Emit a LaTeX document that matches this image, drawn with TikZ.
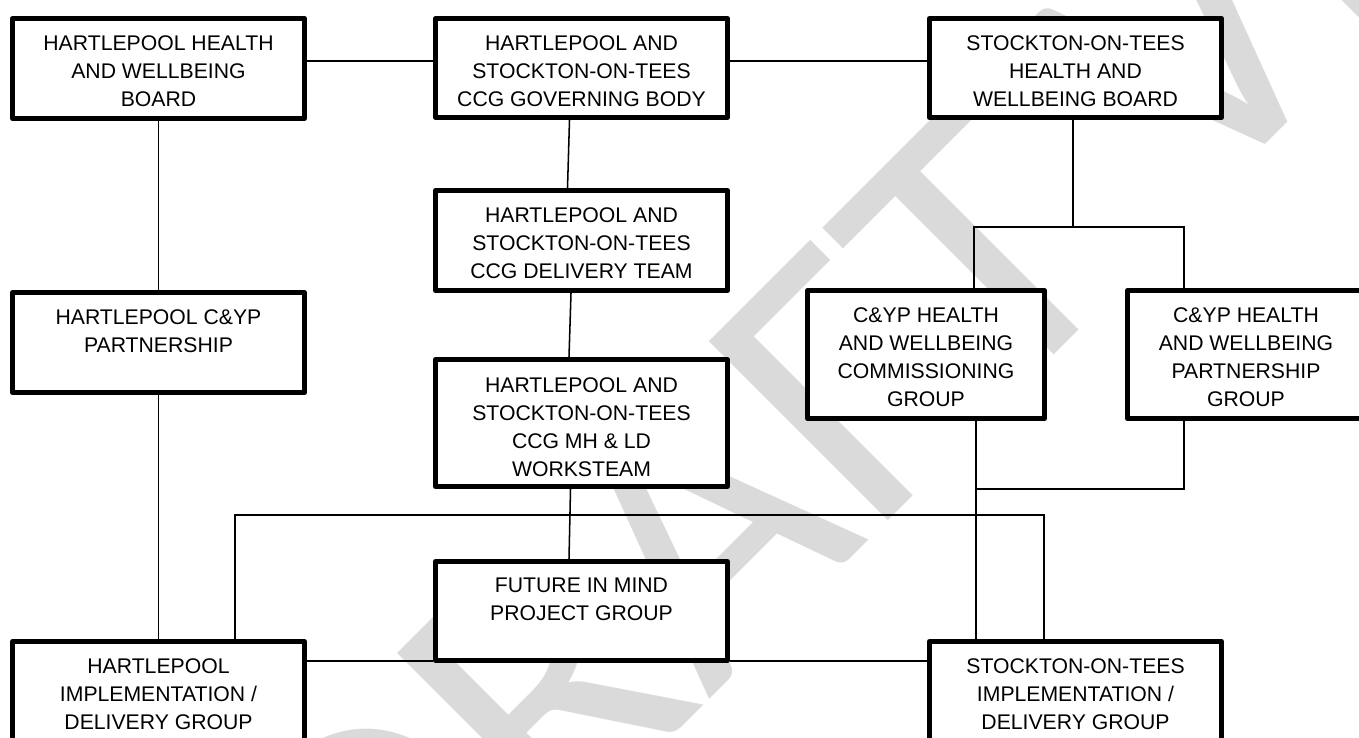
\documentclass[tikz,border=0pt]{standalone}
\usepackage{fontspec}
\setmainfont{Liberation Sans}
\newfontfamily\wmfont{Carlito}
\usetikzlibrary{calc}
\definecolor{wmgray}{RGB}{218,218,218}
\begin{document}
\begin{tikzpicture}[x=0.75pt,y=-0.75pt,
  box/.style={draw=black, line width=3.7pt, fill=white, rectangle, inner sep=0pt, line join=round},
  bsize/.style 2 args={minimum width=#1*0.75pt-3.7pt, minimum height=#2*0.75pt-3.7pt},
  txt/.style={anchor=north, align=center, inner sep=0pt, font=\fontsize{15.9}{21}\selectfont},
  conn/.style={draw=black, line width=1.15pt},
  wmk/.style={text=wmgray, inner sep=0pt, rotate=45, anchor=base west, font=\wmfont\fontsize{296}{296}\selectfont}]
\useasboundingbox (0,0) rectangle (1359,738);
\clip (0,0) rectangle (1359,738);
\fill[white] (0,0) rectangle (1359,738);

% watermark
\node[wmk] (wm) at (385,1024) {DRAFT VERSION};

% level and column coordinates
\coordinate (lvlTop) at (0,61);
\coordinate (lvlSplit) at (0,227);
\coordinate (lvlRet) at (0,489);
\coordinate (lvlBus) at (0,515);
\coordinate (lvlFim) at (0,661);
\coordinate (xBusL) at (235,0);
\coordinate (xBusR) at (1044,0);
\coordinate (xS) at (1073,0);
\coordinate (xCom) at (974,0);
\coordinate (xComB) at (976,0);
\coordinate (xPar) at (1184,0);

% boxes
\node[box, bsize={297}{105}] (hwbH) at (158.5,68.5) {};
\node[box, bsize={297}{104}] (gb) at (581.5,68) {};
\node[box, bsize={297}{104}] (hwbS) at (1075.5,68) {};
\node[box, bsize={297}{105}] (cypH) at (158.5,342.5) {};
\node[box, bsize={297}{105}] (del) at (581.5,240.5) {};
\node[box, bsize={297}{132}] (mh) at (581.5,423) {};
\node[box, bsize={242}{133}] (com) at (926,354.5) {};
\node[box, bsize={242}{133}] (par) at (1246,354.5) {};
\node[box, bsize={297}{104}] (fim) at (581.5,611) {};
\node[box, bsize={297}{105}] (implH) at (158.5,691.5) {};
\node[box, bsize={297}{105}] (implS) at (1075.5,691.5) {};

% texts
\node[txt] (hwbH-t) at (158.5,35) {HARTLEPOOL HEALTH\\AND WELLBEING\\BOARD};
\node[txt] (gb-t) at (581.5,35) {HARTLEPOOL AND\\STOCKTON-ON-TEES\\CCG GOVERNING BODY};
\node[txt] (hwbS-t) at (1075.5,35) {STOCKTON-ON-TEES\\HEALTH AND\\WELLBEING BOARD};
\node[txt] (cypH-t) at (158.5,309) {HARTLEPOOL C\&YP\\PARTNERSHIP};
\node[txt] (del-t) at (581.5,207) {HARTLEPOOL AND\\STOCKTON-ON-TEES\\CCG DELIVERY TEAM};
\node[txt] (mh-t) at (581.5,377) {HARTLEPOOL AND\\STOCKTON-ON-TEES\\CCG MH \& LD\\WORKSTEAM};
\node[txt] (com-t) at (926,307) {C\&YP HEALTH\\AND WELLBEING\\COMMISSIONING\\GROUP};
\node[txt] (par-t) at (1246,307) {C\&YP HEALTH\\AND WELLBEING\\PARTNERSHIP\\GROUP};
\node[txt] (fim-t) at (581.5,578) {FUTURE IN MIND\\PROJECT GROUP};
\node[txt] (implH-t) at (158.5,658) {HARTLEPOOL\\IMPLEMENTATION /\\DELIVERY GROUP};
\node[txt] (implS-t) at (1075.5,658) {STOCKTON-ON-TEES\\IMPLEMENTATION /\\DELIVERY GROUP};

% connectors
\draw[conn] (hwbH.east |- lvlTop) -- (gb.west |- lvlTop);
\draw[conn] (gb.east |- lvlTop) -- (hwbS.west |- lvlTop);
\draw[conn] (hwbH.south) -- (cypH.north);
\draw[conn] (cypH.south) -- (implH.north);
\draw[conn] ($(gb.south)+(-12,0)$) -- ($(del.north)+(-14,0)$);
\draw[conn] ($(del.south)+(-10.5,0)$) -- ($(mh.north)+(-12.5,0)$);
\draw[conn] ($(mh.south)+(-11,0)$) -- ($(fim.north)+(-12.5,0)$);
\draw[conn] (implH.north -| xBusL) -- (xBusL |- lvlBus) -- (xBusR |- lvlBus) -- (implS.north -| xBusR);
\draw[conn] (fim.south west |- lvlFim) -- (implH.east |- lvlFim);
\draw[conn] (fim.south east |- lvlFim) -- (implS.west |- lvlFim);
\draw[conn] (hwbS.south -| xS) -- (xS |- lvlSplit);
\draw[conn] (com.north -| xCom) -- (xCom |- lvlSplit) -- (xPar |- lvlSplit) -- (par.north -| xPar);
\draw[conn] (com.south -| xComB) -- (implS.north -| xComB);
\draw[conn] (par.south -| xPar) -- (xPar |- lvlRet) -- (xComB |- lvlRet);
\end{tikzpicture}
\end{document}
